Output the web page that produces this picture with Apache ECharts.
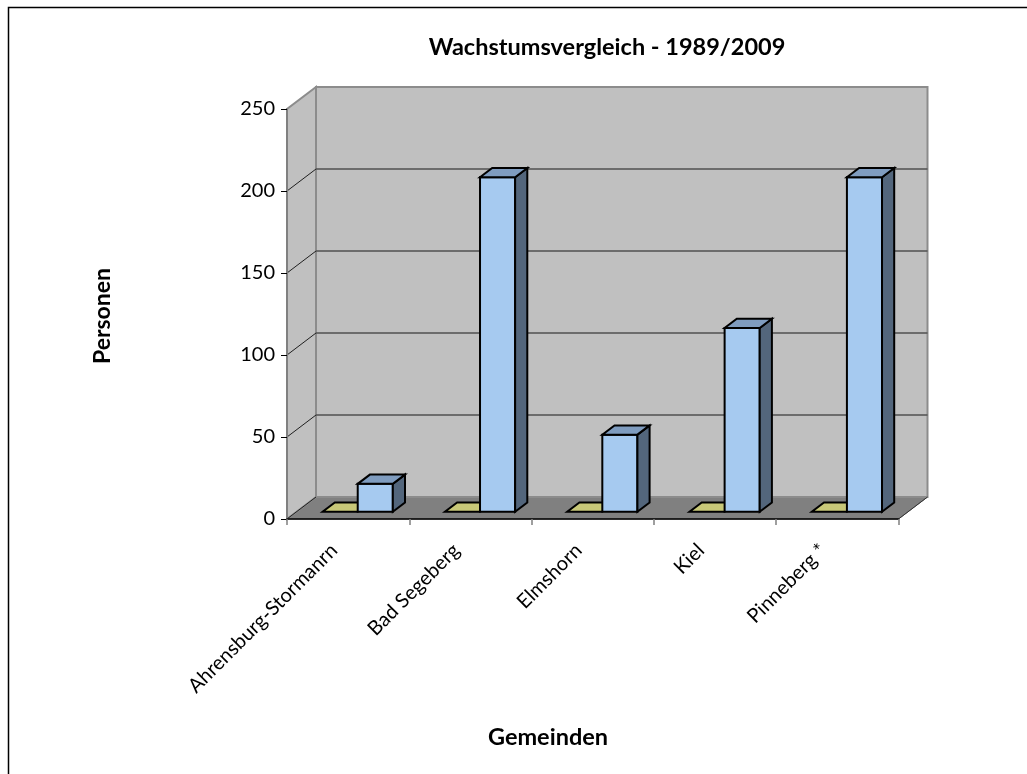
<!DOCTYPE html>
<html>
<head>
<meta charset="utf-8">
<title>Wachstumsvergleich - 1989/2009</title>
<script src="https://cdn.jsdelivr.net/npm/echarts@6/dist/echarts.min.js"></script>
<style>
  html, body { margin: 0; padding: 0; background: #ffffff; }
  #chart { width: 1027px; height: 774px; }
</style>
</head>
<body>
<div id="chart"></div>
<script>
// ---- data ----
const categories = ['Ahrensburg-Stormanrn', 'Bad Segeberg', 'Elmshorn', 'Kiel', 'Pinneberg *'];
const reihe1 = [0, 0, 0, 0, 0];
const reihe2 = [17, 204, 47, 112, 204];
const yTicks = [0, 50, 100, 150, 200, 250];

// ---- pseudo-3D look ----
const DX = 29, DY = -22;          // offset from the front plane to the back wall
const FRONT = 0.33, DEPTH = 0.42; // bar position / thickness as a share of the depth
const BAR_FRAC = 0.287;           // bar width as a share of a category band
const FONT = 'Lato, "Open Sans", sans-serif';

const yMin = yTicks[0], yMax = yTicks[yTicks.length - 1];

function wallsRenderer(params, api) {
  const bw = api.size([1, 0])[0];
  const first = api.coord([0, yMin]);
  const last = api.coord([categories.length - 1, yMin]);
  const x0 = first[0] - bw / 2, x1 = last[0] + bw / 2;
  const y0 = first[1];
  const yT = api.coord([0, yMax])[1];
  const kids = [];
  // floor
  kids.push({ type: 'polygon', shape: { points: [[x0, y0], [x1, y0], [x1 + DX, y0 + DY], [x0 + DX, y0 + DY]] },
    style: { fill: '#808080', stroke: '#6e6e6e', lineWidth: 1 } });
  // back wall
  kids.push({ type: 'polygon', shape: { points: [[x0 + DX, yT + DY], [x1 + DX, yT + DY], [x1 + DX, y0 + DY], [x0 + DX, y0 + DY]] },
    style: { fill: '#c0c0c0', stroke: '#8c8c8c', lineWidth: 2 } });
  // left side wall
  kids.push({ type: 'polygon', shape: { points: [[x0, y0], [x0, yT], [x0 + DX, yT + DY], [x0 + DX, y0 + DY]] },
    style: { fill: '#c0c0c0', stroke: '#8c8c8c', lineWidth: 2 } });
  // gridlines on back wall and side wall
  yTicks.forEach(function (v) {
    const y = api.coord([0, v])[1];
    if (v !== yMin && v !== yMax) {
      kids.push({ type: 'line', shape: { x1: x0 + DX, y1: y + DY, x2: x1 + DX, y2: y + DY },
        style: { stroke: '#505050', lineWidth: 1.5 } });
    }
    if (v !== yMax) {
      kids.push({ type: 'line', shape: { x1: x0, y1: y, x2: x0 + DX, y2: y + DY },
        style: { stroke: '#202020', lineWidth: 1 } });
    }
  });
  // floor right edge
  kids.push({ type: 'line', shape: { x1: x1, y1: y0, x2: x1 + DX, y2: y0 + DY },
    style: { stroke: '#333333', lineWidth: 1 } });
  return { type: 'group', children: kids };
}

function barRenderer(slot, front, top, side) {
  return function (params, api) {
    const cat = api.value(0), val = api.value(1);
    const base = api.coord([cat, yMin]);
    const peak = api.coord([cat, val]);
    const bw = api.size([1, 0])[0];
    const w = bw * BAR_FRAC;
    const xl = base[0] + (slot === 0 ? -w : 0) + DX * FRONT;
    const xr = xl + w;
    const yb = base[1] + DY * FRONT;
    const yt = peak[1] + DY * FRONT;
    const dx = DX * DEPTH, dy = DY * DEPTH;
    const line = { stroke: '#000000', lineWidth: 2, lineJoin: 'miter' };
    const kids = [];
    if (yb - yt > 0.5) {
      kids.push({ type: 'polygon', shape: { points: [[xl, yb], [xr, yb], [xr, yt], [xl, yt]] },
        style: Object.assign({ fill: front }, line) });
      kids.push({ type: 'polygon', shape: { points: [[xr, yb], [xr + dx, yb + dy], [xr + dx, yt + dy], [xr, yt]] },
        style: Object.assign({ fill: side }, line) });
    }
    kids.push({ type: 'polygon', shape: { points: [[xl, yt], [xr, yt], [xr + dx, yt + dy], [xl + dx, yt + dy]] },
      style: Object.assign({ fill: top }, line) });
    return { type: 'group', children: kids };
  };
}

const chart = echarts.init(document.getElementById('chart'), null, { renderer: 'canvas' });
chart.setOption({
  animation: false,
  backgroundColor: '#ffffff',
  grid: { left: 287, top: 109, right: 128.5, bottom: 255, containLabel: false },
  xAxis: {
    type: 'category',
    data: categories,
    z: 10,
    axisLine: { show: true, lineStyle: { color: '#000000', width: 1.5 } },
    axisTick: { show: true, length: 6, interval: 0, lineStyle: { color: '#808080', width: 1.5 } },
    axisLabel: {
      interval: 0, rotate: 45, margin: 14,
      // two en spaces pull each slanted name back from its tick
      formatter: function (v) { return v + '\u2002\u2002'; },
      color: '#000000', fontSize: 20, fontFamily: FONT
    },
    splitLine: { show: false }
  },
  yAxis: {
    type: 'value',
    min: yMin, max: yMax, interval: 50,
    z: 10,
    axisLine: { show: true, lineStyle: { color: '#808080', width: 2 } },
    axisTick: { show: true, length: 6, lineStyle: { color: '#000000', width: 1 } },
    axisLabel: { margin: 12, color: '#000000', fontSize: 20, fontFamily: FONT },
    splitLine: { show: false }
  },
  graphic: [
    { type: 'rect', silent: true, z: 100, shape: { x: 8.5, y: 7.5, width: 1100, height: 900 },
      style: { fill: 'none', stroke: '#000000', lineWidth: 1.5 } },
    { type: 'text', x: 607, y: 47, z: 100,
      style: { text: 'Wachstumsvergleich - 1989/2009', fontFamily: FONT, fontWeight: 'bold', fontSize: 23.5,
        fill: '#000000', align: 'center', verticalAlign: 'middle' } },
    { type: 'text', x: 103, y: 316, rotation: Math.PI / 2, z: 100,
      style: { text: 'Personen', fontFamily: FONT, fontWeight: 'bold', fontSize: 23,
        fill: '#000000', align: 'center', verticalAlign: 'middle' } },
    { type: 'text', x: 548, y: 737, z: 100,
      style: { text: 'Gemeinden', fontFamily: FONT, fontWeight: 'bold', fontSize: 23.5,
        fill: '#000000', align: 'center', verticalAlign: 'middle' } }
  ],
  series: [
    { type: 'custom', name: 'Wände', silent: true, z: 1,
      data: [[0, 0]], encode: { x: 0, y: 1 }, renderItem: wallsRenderer },
    { type: 'custom', name: 'Reihe 1', z: 2,
      data: reihe1.map(function (v, i) { return [i, v]; }), encode: { x: 0, y: 1 },
      renderItem: barRenderer(0, '#c8c878', '#c8c878', '#8f8f4f') },
    { type: 'custom', name: 'Reihe 2', z: 3,
      data: reihe2.map(function (v, i) { return [i, v]; }), encode: { x: 0, y: 1 },
      renderItem: barRenderer(1, '#a6caf0', '#7f9cbf', '#53667c') }
  ]
});
</script>
</body>
</html>
